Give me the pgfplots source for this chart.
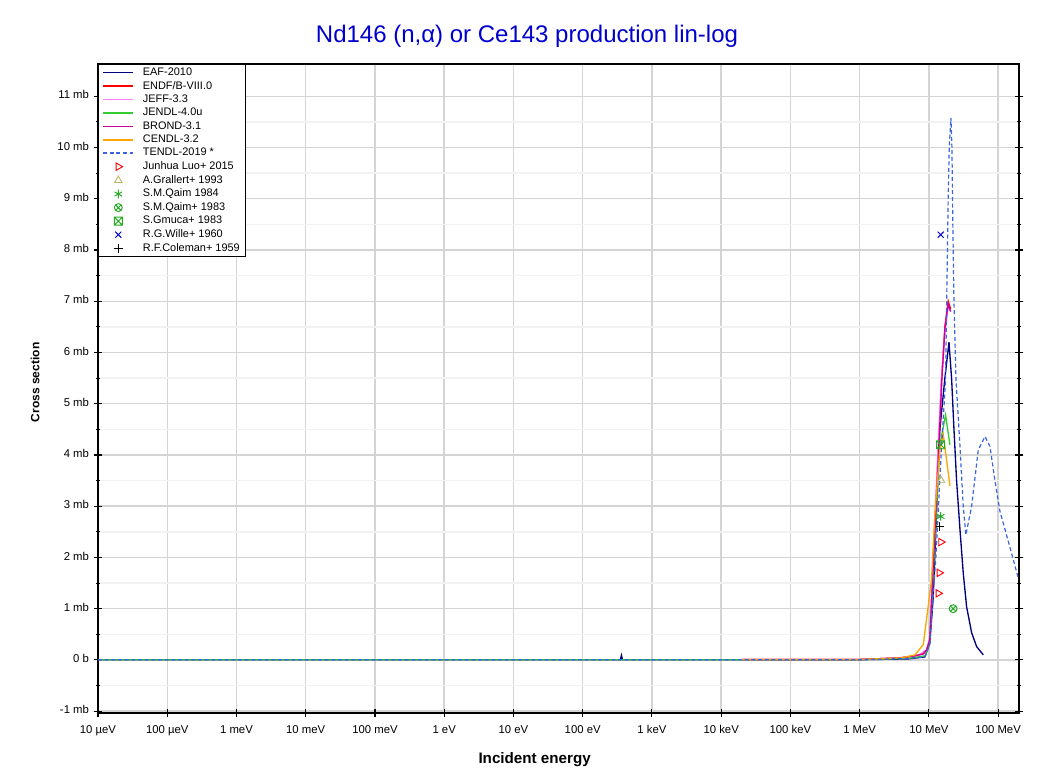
\documentclass[border=0pt]{standalone}
\usepackage{fontspec}
\setmainfont{Liberation Sans}
\usepackage{pgfplots}
\pgfplotsset{compat=1.18}

\definecolor{eafc}{HTML}{000080}
\definecolor{endfc}{HTML}{FF0000}
\definecolor{jeffc}{HTML}{FF80FF}
\definecolor{jendlc}{HTML}{33CC33}
\definecolor{brondc}{HTML}{CC0099}
\definecolor{cendlc}{HTML}{FFA500}
\definecolor{tendlc}{HTML}{3A64E0}
\definecolor{grallc}{HTML}{BDB76B}
\definecolor{qaimc}{HTML}{22AA22}
\definecolor{titlec}{HTML}{0000CC}

% square with a cross inside
\pgfdeclareplotmark{boxx}{%
  \pgfpathrectangle{\pgfqpoint{-\pgfplotmarksize}{-\pgfplotmarksize}}{\pgfqpoint{2\pgfplotmarksize}{2\pgfplotmarksize}}%
  \pgfpathmoveto{\pgfqpoint{-\pgfplotmarksize}{-\pgfplotmarksize}}%
  \pgfpathlineto{\pgfqpoint{\pgfplotmarksize}{\pgfplotmarksize}}%
  \pgfpathmoveto{\pgfqpoint{-\pgfplotmarksize}{\pgfplotmarksize}}%
  \pgfpathlineto{\pgfqpoint{\pgfplotmarksize}{-\pgfplotmarksize}}%
  \pgfusepathqstroke}

\begin{document}
\begin{tikzpicture}
\useasboundingbox (-73.5pt,-45.75pt) rectangle (710.25pt,534.75pt);
\begin{axis}[
  at={(0pt,0pt)}, anchor=south west,
  scale only axis,
  width=690.75pt, height=486.75pt,
  xmode=log,
  xmin=1e-5, xmax=2e8,
  ymin=-1.035, ymax=11.63,
  xtick={1e-5,1e-4,1e-3,1e-2,1e-1,1,10,100,1e3,1e4,1e5,1e6,1e7,1e8},
  xticklabels={10 µeV,100 µeV,1 meV,10 meV,100 meV,1 eV,10 eV,100 eV,1 keV,10 keV,100 keV,1 MeV,10 MeV,100 MeV},
  xminorticks=false,
  ytick={-1,0,...,11},
  yticklabels={-1 mb,0 b,1 mb,2 mb,3 mb,4 mb,5 mb,6 mb,7 mb,8 mb,9 mb,10 mb,11 mb},
  minor y tick num=1,
  xmajorgrids=true, ymajorgrids=true, yminorgrids=true,
  major grid style={draw=black!17, line width=1.1pt},
  minor grid style={draw=black!5, line width=1pt},
  axis line style={line width=1.4pt},
  tick align=center,
  major tick length=6.5pt,
  minor tick length=3pt,
  tick style={black, line width=0.8pt},
  xtick pos=left,
  tick label style={font=\fontsize{8.5}{10}\selectfont},
  typeset ticklabels with strut,
  xticklabel style={yshift=-1.5pt},
  legend image code/.code={\draw[mark repeat=2,mark phase=2,line width=1.1pt,#1] plot coordinates {(0cm,0cm) (0.4cm,0cm) (0.8cm,0cm)};},
  legend style={at={(0,1)}, anchor=north west, draw=black, line width=0.6pt, fill=white,
    font=\fontsize{8.2}{9}\selectfont, inner xsep=3pt, inner ysep=1.2pt,
    nodes={inner ysep=1.4pt, inner xsep=1.5pt}},
  legend cell align=left,
  /tikz/every odd column/.append style={column sep=5pt},
  every axis plot/.append style={line width=1pt},
]

% EAF-2010
\addplot[color=eafc, mark=none] coordinates {
  (1e-5,0.005) (350,0.005) (363,0.09) (376,0.005) (1e6,0.005) (5e6,0.02)
  (8.75e6,0.06) (1.03e7,0.33) (1.15e7,1.2) (1.29e7,2.9) (1.44e7,4.5)
  (1.70e7,5.5) (1.95e7,6.2) (2.13e7,5.47) (2.30e7,4.5) (2.51e7,3.5)
  (2.81e7,2.54) (3.13e7,1.7) (3.5e7,1.04) (4.14e7,0.53) (4.89e7,0.26) (6.1e7,0.1)
};
\addlegendentry{EAF-2010}

% ENDF/B-VIII.0
\addplot[color=endfc, mark=none] coordinates {
  (2e4,0.01) (1e6,0.01) (3.8e6,0.04) (6.3e6,0.08) (8.3e6,0.12) (9.3e6,0.2)
  (1.03e7,0.4) (1.26e7,3.0) (1.53e7,5.5) (1.70e7,6.5) (1.90e7,7.0) (2.06e7,6.85)
};
\addlegendentry{ENDF/B-VIII.0}

% JEFF-3.3
\addplot[color=jeffc, mark=none] coordinates {
  (2e4,0.01) (1e6,0.01) (4e6,0.04) (7e6,0.09) (9.3e6,0.2)
  (1.03e7,0.45) (1.24e7,3.0) (1.5e7,5.4) (1.70e7,6.4) (1.90e7,6.9) (2.06e7,6.8)
};
\addlegendentry{JEFF-3.3}

% JENDL-4.0u
\addplot[color=jendlc, mark=none] coordinates {
  (1e-5,0.005) (1e6,0.005) (5e6,0.03) (8.75e6,0.08) (1.03e7,0.35)
  (1.26e7,2.7) (1.44e7,4.2) (1.74e7,4.78) (2.01e7,4.2)
};
\addlegendentry{JENDL-4.0u}

% BROND-3.1
\addplot[color=brondc, mark=none] coordinates {
  (2e4,0.01) (1e6,0.01) (3.8e6,0.04) (6.3e6,0.08) (8.3e6,0.12) (9.3e6,0.2)
  (1.03e7,0.4) (1.27e7,3.0) (1.54e7,5.5) (1.71e7,6.5) (1.90e7,6.95) (2.06e7,6.8)
};
\addlegendentry{BROND-3.1}

% CENDL-3.2
\addplot[color=cendlc, mark=none] coordinates {
  (2e4,0.01) (1e6,0.01) (4e6,0.04) (6.3e6,0.1) (8.3e6,0.3) (1.09e7,1.56)
  (1.22e7,2.87) (1.44e7,4.1) (1.61e7,4.4) (2.01e7,3.4)
};
\addlegendentry{CENDL-3.2}

% TENDL-2019
\addplot[color=tendlc, mark=none, line width=0.9pt, dash pattern=on 3pt off 2pt] coordinates {
  (1e-5,0.005) (1e6,0.005) (5e6,0.03) (8.75e6,0.06) (1.03e7,0.3) (1.26e7,2.0)
  (1.5e7,4.0) (1.74e7,5.47) (1.90e7,9.05) (1.966e7,10.0) (2.08e7,10.58)
  (2.15e7,10.0) (2.22e7,8.4) (2.30e7,7.0) (2.46e7,5.47) (2.81e7,4.17)
  (3.13e7,3.0) (3.42e7,2.44) (4.14e7,3.0) (5.16e7,4.1) (6.45e7,4.36)
  (7.61e7,4.17) (8.99e7,3.5) (1.062e8,2.9) (1.48e8,2.2) (1.95e8,1.6) (2e8,1.58)
};
\addlegendentry{TENDL-2019 *}

% experimental points
\addplot[only marks, color=endfc, mark=triangle, mark size=3.2pt, mark options={rotate=-90, line width=0.7pt}] coordinates {
  (1.36e7,1.3) (1.41e7,1.7) (1.49e7,2.3)
};
\addlegendentry{Junhua Luo+ 2015}

\addplot[only marks, color=grallc, mark=triangle, mark size=3.2pt, mark options={line width=0.7pt}] coordinates {
  (1.5e7,3.5)
};
\addlegendentry{A.Grallert+ 1993}

\addplot[only marks, color=qaimc, mark=asterisk, mark size=3.2pt, mark options={line width=0.7pt}] coordinates {
  (1.48e7,2.8)
};
\addlegendentry{S.M.Qaim 1984}

\addplot[only marks, color=qaimc, mark=otimes, mark size=3pt, mark options={line width=0.7pt}] coordinates {
  (2.24e7,1.0)
};
\addlegendentry{S.M.Qaim+ 1983}

\addplot[only marks, color=qaimc, mark=boxx, mark size=3pt, mark options={line width=0.7pt}] coordinates {
  (1.48e7,4.2)
};
\addlegendentry{S.Gmuca+ 1983}

\addplot[only marks, color=blue!80!black, mark=x, mark size=3.2pt, mark options={line width=0.7pt}] coordinates {
  (1.48e7,8.3)
};
\addlegendentry{R.G.Wille+ 1960}

\addplot[only marks, color=black, mark=+, mark size=3.2pt, mark options={line width=0.7pt}] coordinates {
  (1.44e7,2.6)
};
\addlegendentry{R.F.Coleman+ 1959}

\end{axis}
\node[anchor=base, text=titlec, font=\fontsize{18}{21}\selectfont] at (321.75pt,502.5pt) {Nd146 (n,α) or Ce143 production lin-log};
\node[anchor=base, font=\fontsize{11.4}{13}\selectfont\bfseries] at (327.5pt,-37.7pt) {Incident energy};
\node[rotate=90, font=\fontsize{9}{11}\selectfont\bfseries] at (-47.25pt,248pt) {Cross section};
\end{tikzpicture}
\end{document}
